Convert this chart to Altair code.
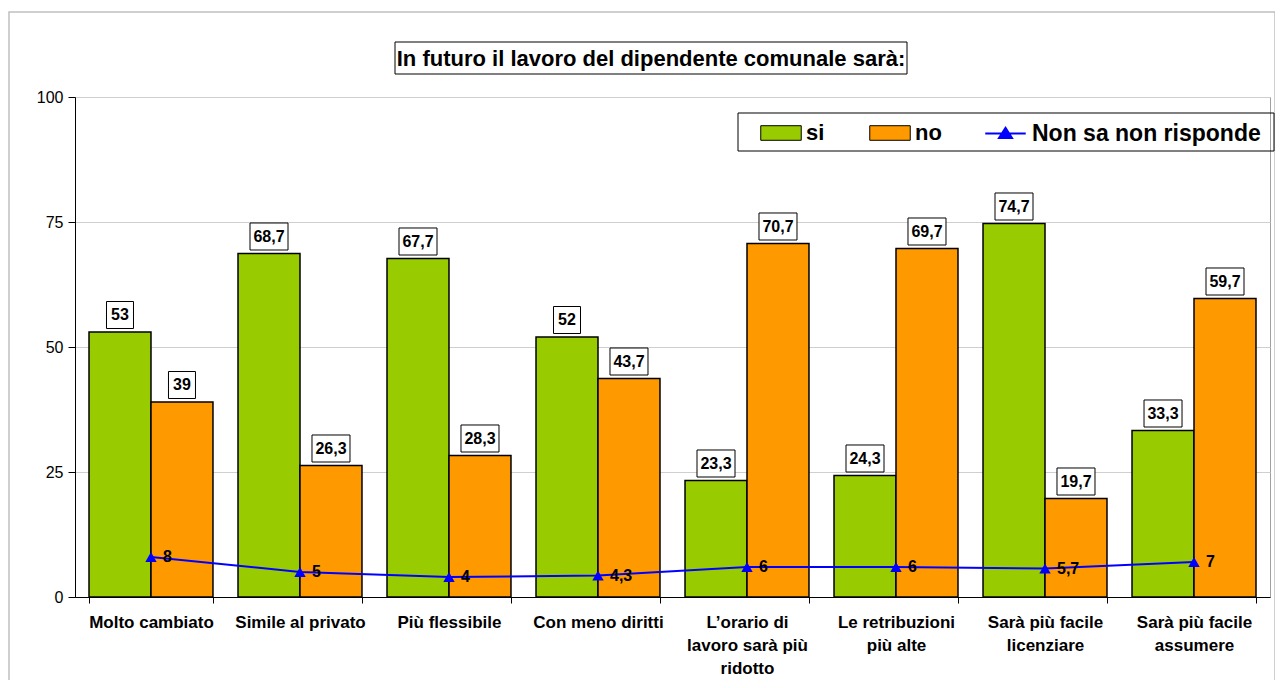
import altair as alt
import pandas as pd

categories = [
    "Molto cambiato",
    "Simile al privato",
    "Più flessibile",
    "Con meno diritti",
    "L’orario di|lavoro sarà più|ridotto",
    "Le retribuzioni|più alte",
    "Sarà più facile|licenziare",
    "Sarà più facile|assumere",
]
si_values = [53, 68.7, 67.7, 52, 23.3, 24.3, 74.7, 33.3]
no_values = [39, 26.3, 28.3, 43.7, 70.7, 69.7, 19.7, 59.7]
nsnr_values = [8, 5, 4, 4.3, 6, 6, 5.7, 7]
series_names = ["si", "no"]
line_name = "Non sa non risponde"
title_text = "In futuro il lavoro del dipendente comunale sarà:"


def fmt(v):
    return f"{v:g}".replace(".", ",")


rows = []
for c, s, n in zip(categories, si_values, no_values):
    for name, v in (("si", s), ("no", n)):
        lab = fmt(v)
        w = 5.5 * len(lab) + 16
        h = 27
        a = h / w
        path = f"M-1,{-a:.3f}L1,{-a:.3f}L1,{a:.3f}L-1,{a:.3f}Z"
        rows.append(dict(category=c, series=name, value=v, label=lab,
                         box=path, boxsize=w * w))
bars_df = pd.DataFrame(rows)

line_df = pd.DataFrame(dict(category=categories, value=nsnr_values,
                            label=[fmt(v) for v in nsnr_values],
                            s=[line_name] * len(categories)))

x_scale = alt.Scale(domain=categories, paddingInner=0.168, paddingOuter=0.094)
y_scale = alt.Scale(domain=[0, 100], nice=False)

x_enc = alt.X("category:N", scale=x_scale, sort=categories,
              axis=alt.Axis(title=None, labelAngle=0, labelFontWeight="bold",
                            labelFontSize=17, labelLineHeight=23,
                            labelExpr="split(datum.label, '|')",
                            tickBand="extent", tickSize=6, tickColor="black",
                            domainColor="black", labelPadding=11,
                            labelLimit=300, labelColor="black",
                            labelBaseline="top"))
y_enc = alt.Y("value:Q", scale=y_scale,
              axis=alt.Axis(title=None, values=[0, 25, 50, 75, 100],
                            grid=True, gridColor="#cfcfcf", domainColor="black",
                            tickColor="black", tickSize=7, labelFontSize=16,
                            labelPadding=5, labelColor="black"))
xoff = alt.XOffset("series:N", sort=series_names,
                   scale=alt.Scale(domain=series_names, paddingInner=0, paddingOuter=0))

bars = alt.Chart(bars_df).mark_bar(stroke="black", strokeWidth=1.5).encode(
    x=x_enc, y=y_enc, xOffset=xoff,
    fill=alt.Fill("series:N",
                  scale=alt.Scale(domain=series_names, range=["#99CC00", "#FF9900"]),
                  legend=alt.Legend(title=None, orient="none", legendX=685, legendY=15,
                                    direction="horizontal", labelFontSize=22,
                                    labelFontWeight="bold", labelColor="black",
                                    symbolType="M-1,-0.36L1,-0.36L1,0.36L-1,0.36Z",
                                    symbolSize=1640, symbolStrokeColor="black",
                                    symbolStrokeWidth=1, columnPadding=42,
                                    labelOffset=4, padding=0, labelLimit=400)),
)

boxes = alt.Chart(bars_df).mark_point(filled=True, fill="white", stroke="black",
                                      strokeWidth=1, opacity=1, yOffset=-17).encode(
    x=x_enc, y=y_enc, xOffset=xoff,
    shape=alt.Shape("box:N", scale=None),
    size=alt.Size("boxsize:Q", scale=None),
)

bar_labels = alt.Chart(bars_df).mark_text(fontSize=16, fontWeight="bold", color="black",
                                          baseline="middle", yOffset=-17).encode(
    x=x_enc, y=y_enc, xOffset=xoff, text="label:N",
)

line = alt.Chart(line_df).mark_line(strokeWidth=2).encode(
    x=x_enc, y=y_enc,
    stroke=alt.Stroke("s:N", scale=alt.Scale(domain=[line_name], range=["#0000FF"]),
                      legend=alt.Legend(title=None, orient="none", legendX=909, legendY=15,
                                        labelFontSize=23, labelFontWeight="bold",
                                        labelColor="black", labelLimit=400,
                                        symbolType="M-1,0L1,0M0,-0.28L0.32,0.22L-0.32,0.22Z",
                                        symbolSize=1640, symbolFillColor="#0000FF",
                                        symbolStrokeWidth=2, labelOffset=5, padding=0)),
)

points = alt.Chart(line_df).mark_point(filled=True, shape="triangle-up", size=130,
                                       color="#0000FF", opacity=1).encode(
    x=x_enc, y=y_enc,
)

line_labels = alt.Chart(line_df).mark_text(align="left", dx=12, fontSize=16,
                                           fontWeight="bold", color="black",
                                           baseline="middle").encode(
    x=x_enc, y=y_enc, text="label:N",
)

one = pd.DataFrame({"k": [0]})

legend_frame = alt.Chart(one).mark_rect(filled=False, stroke="black", strokeWidth=1).encode(
    x=alt.value(663), x2=alt.value(1199), y=alt.value(16), y2=alt.value(54),
)

title_frame = alt.Chart(one).mark_rect(filled=False, stroke="black", strokeWidth=1).encode(
    x=alt.value(320), x2=alt.value(832), y=alt.value(-55), y2=alt.value(-23),
)

title = alt.Chart(one).mark_text(text=title_text, fontSize=22, fontWeight="bold",
                                 color="black", align="center", baseline="middle").encode(
    x=alt.value(576), y=alt.value(-38),
)

outer_frame = alt.Chart(one).mark_rect(filled=False, stroke="#c0c0c0", strokeWidth=1.5).encode(
    x=alt.value(-66), x2=alt.value(1200), y=alt.value(-85), y2=alt.value(600),
)

chart = alt.layer(
    outer_frame, bars, line, points, line_labels, boxes, bar_labels,
    legend_frame, title_frame, title,
).properties(
    width=1195, height=500,
    autosize=alt.AutoSizeParams(type="none"),
    padding={"left": 67, "top": 89, "right": 5, "bottom": 83},
).configure(
    font="Liberation Sans",
).configure_view(
    stroke="#a0a0a0", strokeWidth=1,
)

chart.save("out.html", embed_options={"renderer": "svg", "actions": False})
